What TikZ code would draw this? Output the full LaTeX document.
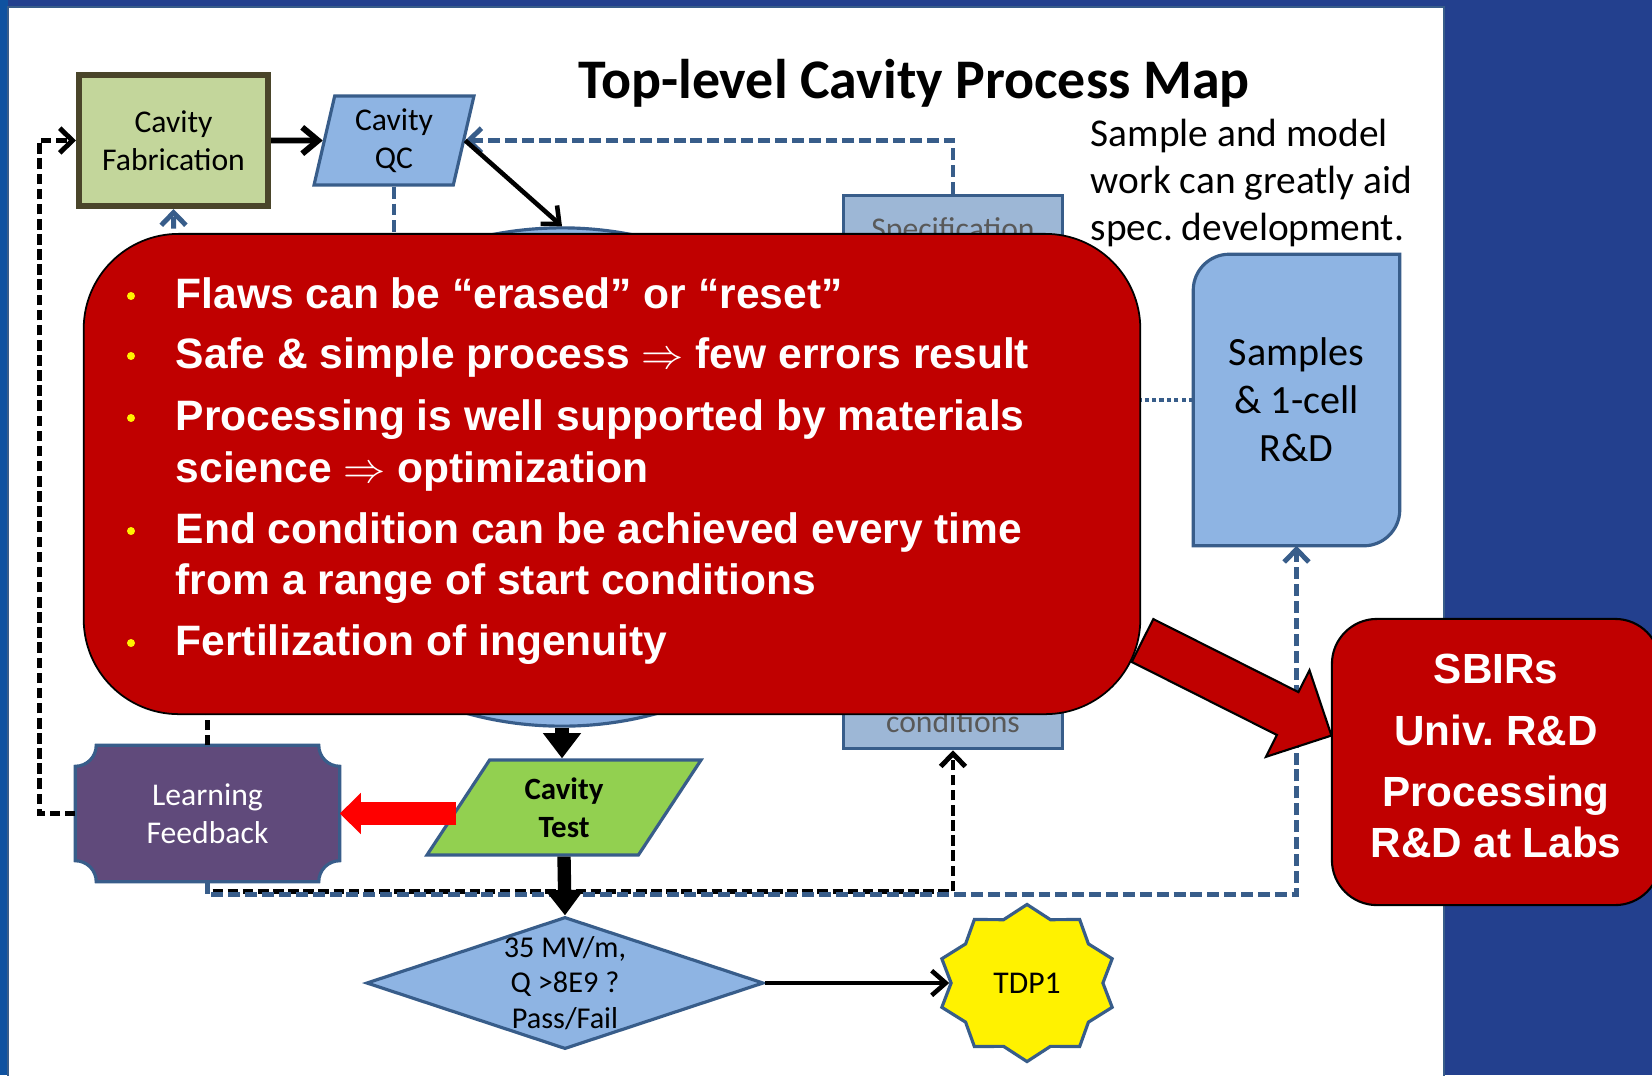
\documentclass[tikz,border=0pt]{standalone}
\usepackage{fontspec}
\setmainfont{Carlito}
\newfontfamily\arialfont{Liberation Sans}
\usepackage{tikz}
\usetikzlibrary{shapes.geometric,arrows.meta,positioning}
\frenchspacing

\definecolor{navy}{RGB}{35,64,142}
\definecolor{leftblue}{RGB}{15,82,160}
\definecolor{steel}{RGB}{56,93,138}
\definecolor{lightblue}{RGB}{142,180,227}
\definecolor{specblue}{RGB}{157,183,214}
\definecolor{fabgreen}{RGB}{195,214,155}
\definecolor{fabedge}{RGB}{74,69,42}
\definecolor{testgreen}{RGB}{146,208,80}
\definecolor{learnpurple}{RGB}{96,74,123}
\definecolor{darkred}{RGB}{192,0,0}
\definecolor{spectext}{RGB}{89,89,89}

\begin{document}
\begin{tikzpicture}
 [x=0.01cm, y=-0.01cm,
  fab node/.style={rectangle, draw=fabedge, fill=fabgreen, line width=1.7pt, minimum width=1.89cm, minimum height=1.31cm, align=center, font=\fontsize{9}{10.8}\selectfont},
  qc node/.style={trapezium, trapezium left angle=78, trapezium right angle=102, trapezium stretches=true, draw=steel, fill=lightblue, line width=0.9pt, minimum width=1.6cm, minimum height=0.89cm, inner sep=0pt, align=center, font=\fontsize{9}{10.8}\selectfont},
  test node/.style={trapezium, trapezium left angle=61, trapezium right angle=119, trapezium stretches=true, draw=steel, fill=testgreen, line width=0.9pt, minimum width=2.74cm, minimum height=0.95cm, inner sep=0pt, align=center, font=\bfseries\fontsize{8.8}{10.8}\selectfont},
  proc node/.style={ellipse, draw=steel, fill=lightblue, line width=0.9pt, minimum width=6cm, minimum height=4.98cm},
  spec node/.style={rectangle, draw=steel, fill=specblue, line width=0.9pt, minimum width=2.19cm, minimum height=5.53cm},
  spec text/.style={anchor=base, text=spectext, font=\fontsize{9}{10.8}\selectfont},
  pf node/.style={diamond, draw=steel, fill=lightblue, line width=0.9pt, minimum width=3.97cm, minimum height=1.32cm, inner sep=0pt},
  pf text/.style={align=center, font=\fontsize{8.6}{10}\selectfont},
  tdp node/.style={star, star points=10, star point ratio=1.18, draw=steel, fill=yellow, line width=0.9pt, minimum size=1.57cm, inner sep=0pt},
  box only/.style={rectangle, inner sep=0pt},
  samples text/.style={align=center, font=\fontsize{11.4}{13.7}\selectfont},
  learn text/.style={align=center, text=white, font=\fontsize{9}{10.8}\selectfont},
  note text/.style={anchor=west, align=left, inner sep=0pt, font=\fontsize{11.2}{13.4}\selectfont},
  red box/.style={rectangle, rounded corners=0.95cm, draw=black, fill=darkred, line width=0.5pt, minimum width=10.56cm, minimum height=4.8cm},
  sbir box/.style={rectangle, rounded corners=0.45cm, draw=black, fill=darkred, line width=0.6pt, minimum width=3.28cm, minimum height=2.86cm},
  sbir text/.style={text=white, align=center, font=\arialfont\bfseries\fontsize{12}{14.5}\selectfont},
  item text/.style={anchor=base west, inner sep=0pt, text=white, font=\arialfont\bfseries\fontsize{12.1}{14.8}\selectfont},
  item dot/.style={circle, fill=yellow, minimum size=0.08cm, inner sep=0pt},
  blue dash/.style={draw=steel, line width=1.4pt, dash pattern=on 3.4pt off 1.4pt},
  black dash/.style={draw=black, line width=1.4pt, dash pattern=on 3pt off 1.3pt},
  blue tip/.style={-{Straight Barb[length=3.6pt,width=7pt]}},
  black tip/.style={-{Straight Barb[length=3.6pt,width=7pt]}},
  main arrow/.style={draw=black, line width=1.7pt, -{Straight Barb[length=4.5pt,width=7.5pt]}},
  thin arrow/.style={draw=black, line width=1.3pt, -{Straight Barb[length=4pt,width=7pt]}},
  thick arrow/.style={draw=black, line width=3.8pt, -{Triangle[length=7.2pt,width=10.4pt]}}]

\useasboundingbox (0,0) rectangle (1652,1075);
\fill[navy] (0,0) rectangle (1652,1075);
\fill[leftblue] (0,0) rectangle (8,1075);
\filldraw[fill=white, draw=steel, line width=0.8pt] (8,7) rectangle (1444,1085);

\node[anchor=base, font=\bfseries\fontsize{15.9}{18}\selectfont] (title) at (914,98) {Top-level Cavity Process Map};
\node[note text] (note) at (1090,183) {Sample and model\\work can greatly aid\\spec. development.};

\node[spec node] (spec) at (953,472) {};
\node[spec text] (spectop) at (953,239) {Specification};
\node[spec text] (specbot) at (953,732) {conditions};
\node[proc node] (proc) at (562,477) {};

\node[fab node] (fab) at (173.5,140.5) {Cavity\\Fabrication};
\node[qc node] (qc) at (394,140.5) {Cavity\\QC};
\node[test node] (test) at (564,807.5) {Cavity\\Test};
\node[pf node] (pf) at (565,983) {};
\node[pf text] (pftext) at (pf) {35 MV/m,\\Q >8E9 ?\\Pass/Fail};
\node[tdp node, xscale=1.14] (tdp) at (1027,983) {};
\node[font=\fontsize{9}{10.8}\selectfont] (tdptext) at (tdp) {TDP1};

\node[box only, minimum width=2.05cm, minimum height=2.9cm] (samples) at (1296.5,400) {};
\filldraw[fill=lightblue, draw=steel, line width=0.9pt] (samples.north east) -- ([yshift=0.36cm]samples.south east)
  arc[start angle=0, end angle=-90, radius=0.36cm] -- (samples.south west) -- ([yshift=-0.36cm]samples.north west)
  arc[start angle=180, end angle=90, radius=0.36cm] -- cycle;
\node[samples text] (samplestext) at (samples) {Samples\\\& 1-cell\\R\&D};

\node[box only, minimum width=2.63cm, minimum height=1.35cm] (learn) at (207.5,813.5) {};
\filldraw[fill=learnpurple, draw=steel, line width=0.9pt] ([xshift=0.21cm]learn.north west) -- ([xshift=-0.21cm]learn.north east)
  arc[start angle=180, end angle=270, radius=0.21cm] -- ([yshift=0.21cm]learn.south east)
  arc[start angle=90, end angle=180, radius=0.21cm] -- ([xshift=0.21cm]learn.south west)
  arc[start angle=0, end angle=90, radius=0.21cm] -- ([yshift=-0.21cm]learn.north west)
  arc[start angle=270, end angle=360, radius=0.21cm] -- cycle;
\node[learn text] (learntext) at (learn) {Learning\\Feedback};

\coordinate (fabin) at (174,330);
\coordinate (qcout) at (394,330);
\coordinate (learnup) at (207.5,640);
\coordinate (samplesin) at (1060,400);

\draw[black dash, black tip] (learn.west) -- ++(-36,0) |- (fab.west);
\draw[black dash] (learn.north) -- (learnup);
\draw[blue dash, blue tip] (fabin) -- (fab.south);
\draw[blue dash] (qc.center |- qc.south) -- (qcout);
\draw[blue dash, blue tip] (spec.north) |- (qc.east);
\draw[draw=steel, line width=1.4pt, dash pattern=on 1.2pt off 0.9pt] (samples.west) -- (samplesin);
\draw[black dash, black tip] (learn.south) -- ++(0,10) -| (spec.south);
\draw[blue dash, blue tip] (learn.south) -- ++(0,13) -| (samples.south);

\path
  (fab) edge [main arrow] (qc)
  (qc.east) edge [thin arrow] (proc.north)
  (pf.east) edge [thin arrow] (tdp.west);
\draw[thick arrow] (proc.south) -- (proc.south |- test.north);
\draw[thick arrow] (test.center |- test.south) -- (pf.north);
\draw[red, line width=6.3pt, -{Triangle[length=6pt,width=11.4pt]}] (test.west |- learn.east) -- (learn.east);

\node[red box] (flaws) at (612,474) {};
\node[item dot] (dot1) at (131,296) {};
\node[item dot] (dot2) at (131,356) {};
\node[item dot] (dot3) at (131,418) {};
\node[item dot] (dot4) at (131,531) {};
\node[item dot] (dot5) at (131,643) {};
\node[item text] (item1) at (175,308) {Flaws can be “erased” or “reset”};
\node[item text] (item2) at (175,368) {Safe \& simple process $\Rightarrow$ few errors result};
\node[item text] (item3) at (175,430) {Processing is well supported by materials};
\node[item text] (item3b) at (175,482) {science $\Rightarrow$ optimization};
\node[item text] (item4) at (175,543) {End condition can be achieved every time};
\node[item text] (item4b) at (175,594) {from a range of start conditions};
\node[item text] (item5) at (175,655) {Fertilization of ingenuity};

\coordinate (calltail) at (1142.5,640.5);
\filldraw[fill=darkred, draw=black, line width=0.6pt, shift={(calltail)}, rotate=-26.7]
  (0,24) -- (162.5,24) -- (162.5,48.5) -- (211.5,0) -- (162.5,-48.5) -- (162.5,-24) -- (0,-24) -- cycle;

\node[sbir box] (sbir) at (1496,762) {};
\node[sbir text] (sbirtext) at (1496,756) {SBIRs\\[3.1pt]Univ. R\&D\\[3.1pt]Processing\\R\&D at Labs};

\end{tikzpicture}
\end{document}
